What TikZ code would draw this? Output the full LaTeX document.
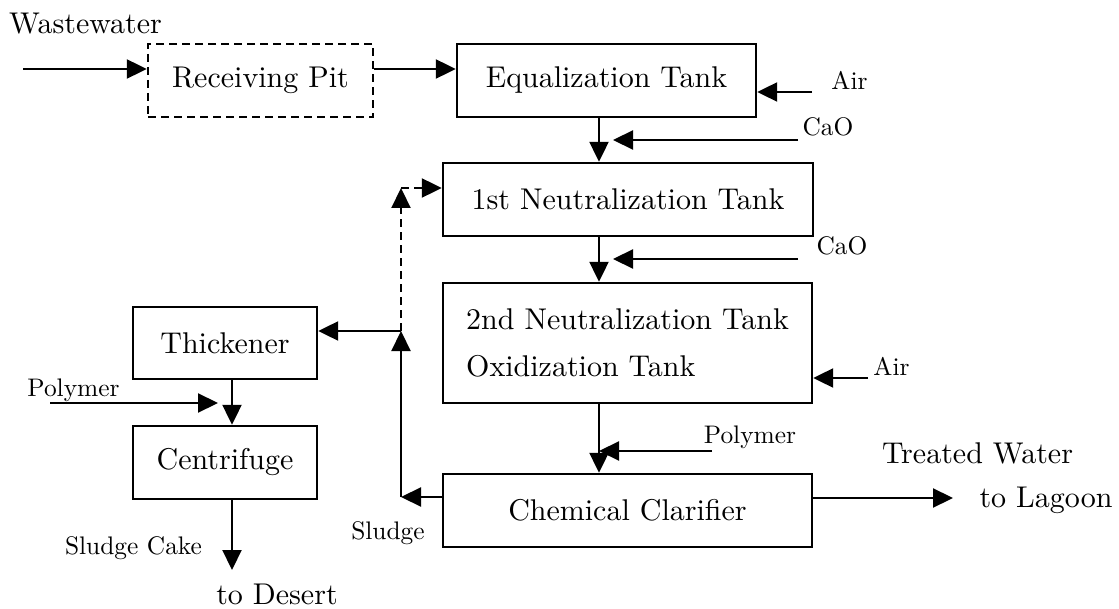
\documentclass[tikz,border=0pt]{standalone}
\usepackage{tikz}
\usetikzlibrary{arrows.meta}
\font\tankfont="[lmroman10-regular]:mapping=tex-text" at 15pt
\font\notefont="[lmroman10-regular]:mapping=tex-text" at 12.7pt
\tikzset{
    tank/.style={draw, line width=1.2pt, inner sep=0pt, font={\tankfont\baselineskip=18pt}},
    flow/.style={line width=1.1pt, -{Triangle[length=10pt, width=9.5pt]}},
    bypass/.style={dash pattern=on 4pt off 2.5pt},
    note/.style={inner sep=0pt, font=\notefont},
    tag/.style={inner sep=0pt, font=\tankfont},
}

\begin{document}
\begin{tikzpicture}[x=0.5pt, y=-0.5pt]
    \useasboundingbox (0,0) rectangle (1119,609);
    % tanks
    \node[tank, bypass, minimum width=112.5pt, minimum height=36.5pt] (pit) at (260.5,80.5) {Receiving Pit};
    \node[tank, minimum width=149.5pt, minimum height=36.5pt] (eq) at (606.5,80.5) {Equalization Tank\hspace{6pt}};
    \node[tank, minimum width=185pt, minimum height=36.5pt] (neut1) at (628,199.5) {1st Neutralization Tank};
    \node[tank, minimum width=184.5pt, minimum height=60pt, align=left] (neut2) at (627.5,343) {2nd Neutralization Tank\\[5.5pt]Oxidization Tank};
    \node[tank, minimum width=184.5pt, minimum height=36.5pt] (clar) at (627.5,510.5) {Chemical Clarifier\hspace{14pt}};
    \node[tank, minimum width=92pt, minimum height=36pt] (thick) at (225,343) {Thickener};
    \node[tank, minimum width=92pt, minimum height=36.5pt] (cent) at (225,462.5) {Centrifuge};

    % labels
    \node[tag] (ww) at (85.5,24) {Wastewater};
    \node[note] (aira) at (849.5,80) {Air};
    \node[note] (caoa) at (828,127) {CaO};
    \node[note] (caob) at (842,246) {CaO};
    \node[note] (airb) at (891.5,366) {Air};
    \node[note] (polya) at (750,437) {Polymer};
    \node[tag] (treated) at (977.5,453) {Treated Water};
    \node[tag] (lagoon) at (1046,500) {to Lagoon};
    \node[note] (polyb) at (73.5,390) {Polymer};
    \node[note] (cakelbl) at (133.5,548) {Sludge Cake};
    \node[tag] (desert) at (277,594) {to Desert};
    \node[note] (sludgelbl) at (388,533) {Sludge};

    % free ends and bends
    \coordinate (feed) at (23,69);
    \coordinate (main) at (599,0);
    \coordinate (dose) at (613,0);
    \coordinate (air1) at (812,92);
    \coordinate (cao1) at (798,140);
    \coordinate (cao2) at (798,259);
    \coordinate (air2) at (868,378);
    \coordinate (poly1) at (712,451);
    \coordinate (out) at (953,498);
    \coordinate (sludge) at (401,497);
    \coordinate (split) at (401,331);
    \coordinate (back) at (401,188);
    \coordinate (poly2) at (50,403);
    \coordinate (mix) at (218,403);
    \coordinate (cake) at (232,570);

    % main line
    \draw[flow] (feed) -- (feed -| pit.west);
    \draw[flow] (feed -| pit.east) -- (feed -| eq.west);
    \draw[flow] (main |- eq.south) -- (main |- neut1.north);
    \draw[flow] (main |- neut1.south) -- (main |- neut2.north);
    \draw[flow] (main |- neut2.south) -- (main |- clar.north);
    \draw[flow] (out -| clar.east) -- (out);

    % dosing
    \draw[flow] (air1) -- (air1 -| eq.east);
    \draw[flow] (cao1) -- (cao1 -| dose);
    \draw[flow] (cao2) -- (cao2 -| dose);
    \draw[flow] (air2) -- (air2 -| neut2.east);
    \draw[flow] (poly1) -- (poly1 -| main);

    % sludge line
    \draw[flow] (sludge -| clar.west) -- (sludge);
    \draw[flow] (sludge) -- (split);
    \draw[flow] (split) -- (split -| thick.east);
    \draw[flow, bypass] (split) -- (back);
    \draw[flow, bypass] (back) -- (back -| neut1.west);
    \draw[flow] (cake |- thick.south) -- (cake |- cent.north);
    \draw[flow] (poly2) -- (mix);
    \draw[flow] (cake |- cent.south) -- (cake);
\end{tikzpicture}
\end{document}
